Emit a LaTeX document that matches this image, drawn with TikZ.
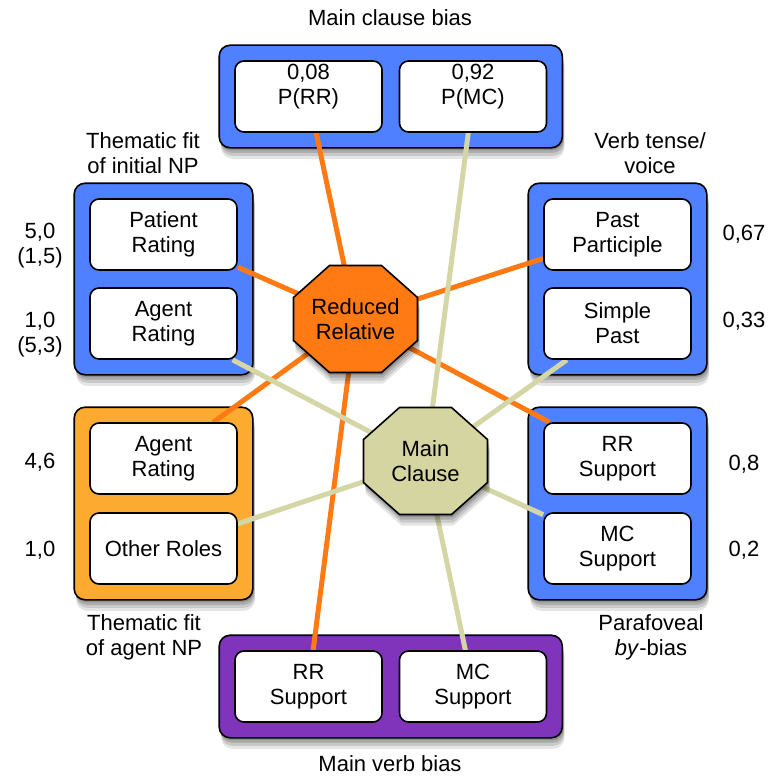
\documentclass[tikz,border=0pt]{standalone}
\usepackage{fontspec}
\setmainfont{Liberation Sans}
\usetikzlibrary{shadows,fit,calc}
\definecolor{boxblue}{RGB}{78,128,255}
\definecolor{boxorange}{RGB}{252,170,48}
\definecolor{boxpurple}{RGB}{128,52,188}
\definecolor{rrorange}{RGB}{255,122,18}
\definecolor{mcbeige}{RGB}{213,214,166}
\definecolor{mcfill}{RGB}{212,213,160}
\pgfdeclarelayer{outer}
\pgfdeclarelayer{links}
\pgfsetlayers{outer,links,main}
\newcommand\octagonpath[2]{%
  \path[octa,fill=#2] ($(#1)+(-62,-21.5)$) -- ($(#1)+(-26,-53.5)$) -- ($(#1)+(26,-53.5)$) -- ($(#1)+(62,-21.5)$)
    -- ($(#1)+(62,21.5)$) -- ($(#1)+(26,53.5)$) -- ($(#1)+(-26,53.5)$) -- ($(#1)+(-62,21.5)$) -- cycle;}
\begin{document}
\begin{tikzpicture}[x=1pt,y=-1pt,
  txt/.style={font=\fontsize{22}{25}\selectfont, align=center, inner sep=0pt},
  inbox/.style={txt, draw=black, line width=1.6pt, fill=white, rounded corners=9pt, minimum width=147pt, minimum height=71pt},
  softshadow/.style={
    general shadow={fill=black, opacity=0.10, shadow xshift=2pt, shadow yshift=-11pt, shadow scale=1.0},
    general shadow={fill=black, opacity=0.12, shadow xshift=2pt, shadow yshift=-8pt},
    general shadow={fill=black, opacity=0.14, shadow xshift=1.5pt, shadow yshift=-5pt},
    general shadow={fill=black, opacity=0.16, shadow xshift=1pt, shadow yshift=-2.5pt}},
  outbox/.style={draw=black, line width=1.6pt, rounded corners=11pt, inner sep=15pt, softshadow},
  rrlink/.style={draw=rrorange, line width=5pt},
  mclink/.style={draw=mcbeige, line width=5pt},
  octa/.style={draw=black, line width=1.6pt, softshadow},
]
\useasboundingbox (0,0) rectangle (771,776);

% inner boxes
\node[inbox] (tl) at (308.5,96.5) {0,08\\P(RR)\\[-8pt]\strut};
\node[inbox] (tr) at (473,96.5) {0,92\\P(MC)\\[-8pt]\strut};
\node[inbox] (lp) at (163.5,234.5) {Patient\\Rating};
\node[inbox] (la) at (163.5,323.5) {Agent\\Rating};
\node[inbox] (oa) at (163.5,458.5) {Agent\\Rating};
\node[inbox] (oo) at (163.5,548.5) {Other Roles};
\node[inbox] (rp) at (617.5,234.5) {Past\\Participle};
\node[inbox] (rs) at (617.5,323.5) {Simple\\Past};
\node[inbox] (rr2) at (617.5,458.5) {RR\\Support};
\node[inbox] (rm2) at (617.5,548.5) {MC\\Support};
\node[inbox] (br) at (308.5,686.5) {RR\\Support};
\node[inbox] (bm) at (473,686.5) {MC\\Support};

% outer boxes
\begin{pgfonlayer}{outer}
\node[outbox, fill=boxblue, fit=(tl)(tr)] (topbox) {};
\node[outbox, fill=boxblue, fit=(lp)(la)] (leftbox) {};
\node[outbox, fill=boxorange, fit=(oa)(oo)] (agentbox) {};
\node[outbox, fill=boxblue, fit=(rp)(rs)] (tensebox) {};
\node[outbox, fill=boxblue, fit=(rr2)(rm2)] (parabox) {};
\node[outbox, fill=boxpurple, fit=(br)(bm)] (verbbox) {};
\end{pgfonlayer}

% octagons
\coordinate (rrc) at (355.5,319);
\coordinate (mcc) at (425.5,461);
\octagonpath{rrc}{rrorange}
\octagonpath{mcc}{mcfill}
\node[txt] (rr) at (rrc) {Reduced\\Relative};
\node[txt] (mc) at (mcc) {Main\\Clause};

% connectors
\begin{pgfonlayer}{links}
\draw[rrlink] (rr.center) -- (tl);
\draw[rrlink] (rr.center) -- (lp);
\draw[rrlink] (rr.center) -- (rp);
\draw[rrlink] (rr.center) -- (oa);
\draw[rrlink] (rr.center) -- (rr2);
\draw[rrlink] (rr.center) -- (br);
\draw[mclink] (mc.center) -- (tr);
\draw[mclink] (mc.center) -- (la);
\draw[mclink] (mc.center) -- (rs);
\draw[mclink] (mc.center) -- (oo);
\draw[mclink] (mc.center) -- (rm2);
\draw[mclink] (mc.center) -- (bm);
\end{pgfonlayer}

% titles
\node[txt] (t1) at (390,18) {Main clause bias};
\node[txt] (t2) at (143,153) {Thematic fit\\of initial NP};
\node[txt] (t3) at (650,153) {Verb tense/\\voice};
\node[txt] (t4) at (144,637) {Thematic fit\\of agent NP};
\node[txt] (t5) at (651,637) {Parafoveal\\\textit{by}-bias};
\node[txt] (t6) at (390,764) {Main verb bias};

% values
\node[txt] (v1) at (40,246) {5,0\\(1,5)};
\node[txt] (v2) at (40,335) {1,0\\(5,3)};
\node[txt] (v3) at (40,462) {4,6};
\node[txt] (v4) at (40,550) {1,0};
\node[txt] (v5) at (744,234) {0,67};
\node[txt] (v6) at (744,321) {0,33};
\node[txt] (v7) at (744,464) {0,8};
\node[txt] (v8) at (744,550) {0,2};
\end{tikzpicture}
\end{document}
